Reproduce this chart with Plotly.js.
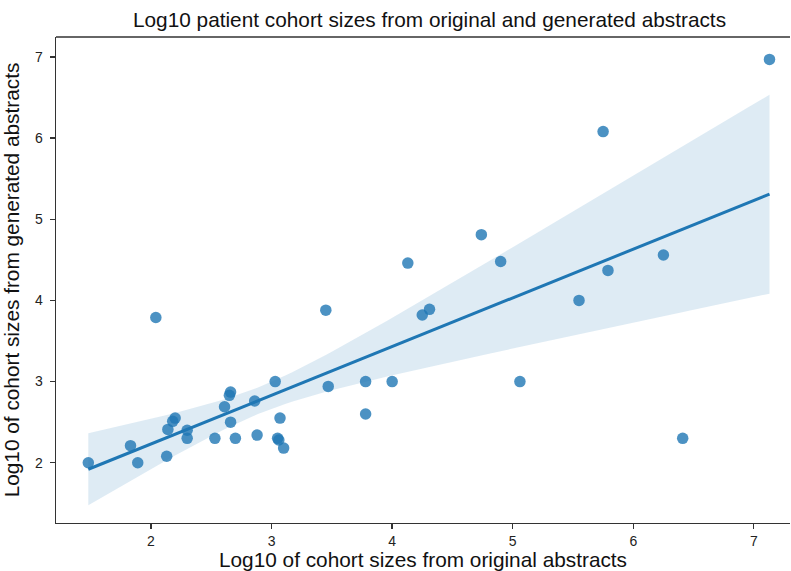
<!DOCTYPE html>
<html>
<head>
<meta charset="utf-8">
<script src="https://cdn.plot.ly/plotly-3.0.1.min.js"></script>
<style>html,body{margin:0;padding:0;background:#fff;}#chart{width:791px;height:571px;}</style>
</head>
<body>
<div id="chart"></div>
<script>
// Log10 cohort sizes
const originalLog = [1.48, 1.83, 1.89, 2.04, 2.13, 2.14, 2.18, 2.20, 2.30, 2.30,
  2.53, 2.61, 2.65, 2.66, 2.66, 2.70, 2.86, 2.88, 3.03, 3.05,
  3.06, 3.07, 3.10, 3.45, 3.47, 3.78, 3.78, 4.00, 4.13, 4.25,
  4.31, 4.74, 4.90, 5.06, 5.55, 5.75, 5.79, 6.25, 6.41, 7.13];
const generatedLog = [2.00, 2.21, 2.00, 3.79, 2.08, 2.41, 2.51, 2.55, 2.40, 2.30,
  2.30, 2.69, 2.83, 2.87, 2.50, 2.30, 2.76, 2.34, 3.00, 2.30,
  2.28, 2.55, 2.18, 3.88, 2.94, 3.00, 2.60, 3.00, 4.46, 3.82,
  3.89, 4.81, 4.48, 3.00, 4.00, 6.08, 4.37, 4.56, 2.30, 6.97];
const xTicks = [2, 3, 4, 5, 6, 7];
const yTicks = [2, 3, 4, 5, 6, 7];

// Ordinary least squares fit with a robust (HC2) 95% confidence band of the mean,
// which approximates the bootstrap band drawn in the original
const n = originalLog.length;
const mx = originalLog.reduce((a, b) => a + b, 0) / n;
const my = generatedLog.reduce((a, b) => a + b, 0) / n;
let sxx = 0, sxy = 0, sx = 0, sx2 = 0;
for (let i = 0; i < n; i++) {
  sxx += (originalLog[i] - mx) ** 2;
  sxy += (originalLog[i] - mx) * (generatedLog[i] - my);
  sx += originalLog[i]; sx2 += originalLog[i] ** 2;
}
const slope = sxy / sxx;
const intercept = my - slope * mx;
const det = n * sx2 - sx * sx;
const A = [[sx2 / det, -sx / det], [-sx / det, n / det]];
let m00 = 0, m01 = 0, m11 = 0;
for (let i = 0; i < n; i++) {
  const xi = originalLog[i];
  const e = generatedLog[i] - (intercept + slope * xi);
  const h = 1 / n + (xi - mx) ** 2 / sxx;
  const w = (e * e) / (1 - h);
  m00 += w; m01 += w * xi; m11 += w * xi * xi;
}
const M = [[m00, m01], [m01, m11]];
function mul(P, Q) {
  return [[P[0][0]*Q[0][0]+P[0][1]*Q[1][0], P[0][0]*Q[0][1]+P[0][1]*Q[1][1]],
          [P[1][0]*Q[0][0]+P[1][1]*Q[1][0], P[1][0]*Q[0][1]+P[1][1]*Q[1][1]]];
}
const V = mul(mul(A, M), A);
const z = 1.96;
const xmin = Math.min(...originalLog), xmax = Math.max(...originalLog);
const gx = [], gy = [], lo = [], hi = [];
for (let k = 0; k <= 100; k++) {
  const x = xmin + (xmax - xmin) * k / 100;
  const yhat = intercept + slope * x;
  const se = Math.sqrt(V[0][0] + 2 * x * V[0][1] + x * x * V[1][1]);
  gx.push(x); gy.push(yhat); lo.push(yhat - z * se); hi.push(yhat + z * se);
}

const blue = '#1f77b4';
const traces = [
  {x: gx, y: lo, mode: 'lines', line: {width: 0}, hoverinfo: 'skip', showlegend: false},
  {x: gx, y: hi, mode: 'lines', line: {width: 0}, fill: 'tonexty',
   fillcolor: 'rgba(31,119,180,0.15)', hoverinfo: 'skip', showlegend: false},
  {x: originalLog, y: generatedLog, mode: 'markers', type: 'scatter',
   marker: {size: 11.5, color: 'rgba(31,119,180,0.8)', line: {width: 0}}, showlegend: false},
  {x: gx, y: gy, mode: 'lines', line: {color: blue, width: 3}, showlegend: false}
];

const axisCommon = {
  showgrid: false, zeroline: false, showline: true, linecolor: '#333', linewidth: 1.3,
  ticks: 'outside', ticklen: 5, tickwidth: 1.3, tickcolor: '#333',
  tickfont: {family: 'Liberation Sans, Arial, sans-serif', size: 14, color: '#222'}
};
const layout = {
  width: 791, height: 571,
  margin: {l: 56, r: 1, t: 37, b: 48},
  paper_bgcolor: '#fff', plot_bgcolor: '#fff',
  font: {family: 'Liberation Sans, Arial, sans-serif', color: '#111'},
  title: {text: 'Log10 patient cohort sizes from original and generated abstracts',
          font: {size: 20.8, color: '#111'}, x: 0.543, xanchor: 'center', y: 0.966, yanchor: 'middle'},
  xaxis: Object.assign({}, axisCommon, {
    range: [1.212, 7.3], tickvals: xTicks, ticktext: xTicks.map(String),
    title: {text: 'Log10 of cohort sizes from original abstracts', font: {size: 20.8, color: '#111'}}
  }),
  yaxis: Object.assign({}, axisCommon, {
    range: [1.257, 7.246], tickvals: yTicks, ticktext: yTicks.map(String), ticklabelstandoff: 4,
    title: {text: 'Log10 of cohort sizes from generated abstracts', font: {size: 20.8, color: '#111'}}
  }),
  shapes: [{type: 'line', xref: 'paper', yref: 'paper', x0: 0, x1: 1, y0: 1, y1: 1,
            line: {color: '#333', width: 1.3}}]
};
Plotly.newPlot('chart', traces, layout, {displayModeBar: false, staticPlot: true});
</script>
</body>
</html>
